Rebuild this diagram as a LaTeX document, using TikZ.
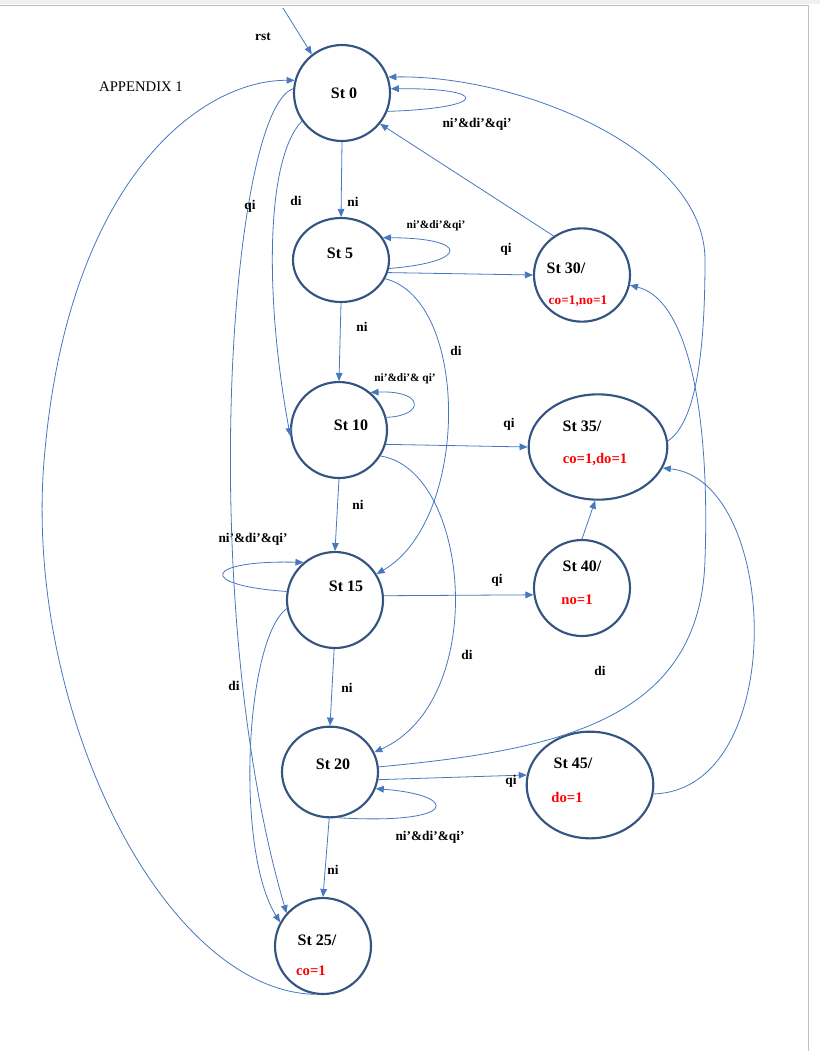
\documentclass[tikz,border=0pt]{standalone}
\usepackage{fontspec}
\setmainfont{Liberation Serif}
\usetikzlibrary{shapes.geometric,arrows.meta}
\begin{document}
\begin{tikzpicture}[x=0.75pt,y=-0.75pt,
  st/.style={draw=stc,line width=1.6pt,ellipse,inner sep=0pt},
  e/.style={draw=arr,line width=0.6pt,-{Triangle[length=6pt,width=5pt]}},
  lb/.style={font=\bfseries\fontsize{10}{12}\selectfont},
  sl/.style={font=\bfseries\fontsize{8.5}{10}\selectfont},
  nm/.style={font=\bfseries\fontsize{12}{14}\selectfont},
  rd/.style={font=\bfseries\fontsize{11}{13}\selectfont,text=red}]
\definecolor{stc}{RGB}{52,84,130}
\definecolor{arr}{RGB}{70,120,190}
\useasboundingbox (0,0) rectangle (820,1051);
\fill[gray!12] (0,0) rectangle (820,4);
\draw[gray!50] (0,5) -- (808,5) -- (808,1051);
\node[font=\fontsize{11}{13}\selectfont] (app) at (141,87) {APPENDIX 1};
% states
\node[st,minimum width=96pt*0.75/0.75*0.75,minimum height=72pt] (S0) at (342,93) {};
\node[st,minimum width=72pt,minimum height=63pt] (S5) at (341,260) {};
\node[st,minimum width=72pt,minimum height=70pt] (S30) at (582,275) {};
\node[st,minimum width=72pt,minimum height=72pt] (S10) at (339,430) {};
\node[st,minimum width=104pt,minimum height=79pt] (S35) at (598,447) {};
\node[st,minimum width=72pt,minimum height=72pt] (S15) at (335,600) {};
\node[st,minimum width=72pt,minimum height=72pt] (S40) at (582,588) {};
\node[st,minimum width=72pt,minimum height=68pt] (S20) at (330,772) {};
\node[st,minimum width=95pt,minimum height=80pt] (S45) at (590,785) {};
\node[st,minimum width=72pt,minimum height=72pt] (S25) at (323,946) {};
% texts
\node[nm] (t0) at (344,93) {St 0};
\node[nm] (t5) at (340,253) {St 5};
\node[nm] (t30) at (566,268) {St 30/};
\node[rd,font=\bfseries\fontsize{10}{12}\selectfont] (r30) at (578,301) {co=1,no=1};
\node[nm] (t10) at (351,425) {St 10};
\node[nm] (t35) at (582,426) {St 35/};
\node[rd] (r35) at (595,460) {co=1,do=1};
\node[nm] (t15) at (346,586) {St 15};
\node[nm] (t40) at (582,566) {St 40/};
\node[rd] (r40) at (577,600) {no=1};
\node[nm] (t20) at (333,764) {St 20};
\node[nm] (t45) at (573,763) {St 45/};
\node[rd] (r45) at (567,797) {do=1};
\node[nm] (t25) at (317,940) {St 25/};
\node[rd] (r25) at (311,971) {co=1};
% rst
\coordinate (rs) at (283,8);
\draw[e] (rs) -- (S0.128);
\node[lb] (lrst) at (263,37) {rst};
% straight ni
\draw[e] (S0.-90) -- (S5.90);
\draw[e] (S5.-90) -- (S10.90);
\draw[e] (S10.-90) -- (S15.90);
\draw[e] (S15.-91) -- (S20.90);
\draw[e] (S20.-91) -- (S25.90);
\node[lb] at (353,202) {ni};
\node[lb] at (362,327) {ni};
\node[lb] at (358,505) {ni};
\node[lb] at (347,688) {ni};
\node[lb] at (333,870) {ni};
% qi straight
\draw[e] (S5.-15) -- (S30.180);
\draw[e] (S10.-17) -- (S35.180);
\draw[e] (S15.5) -- (S40.-172);
\draw[e] (S20.-9) -- (S45.171);
\node[lb] at (506,249) {qi};
\node[lb] at (509,424) {qi};
\node[lb] at (497,580) {qi};
\node[lb] at (511,781) {qi};
\draw[e] (S40.90) -- (S35.-93);
\draw[e] (S30.126) -- (S0.-39);
% self loops
\draw[e] (S0.-22) .. controls (490,108) and (490,88) .. (S0.5);
\node[lb] (l0) at (477,124) {ni’\&di’\&qi’};
\draw[e] (S5.-10) .. controls (470,262) and (470,238) .. (S5.28);
\node[sl] at (436,226) {ni’\&di’\&qi’};
\draw[e] (S10.15) .. controls (425,416) and (425,390) .. (S10.50);
\node[sl] at (405,379) {ni’\&di’\& qi’};
\draw[e] (S15.170) .. controls (195,585) and (205,560) .. (S15.130);
\node[lb] at (253,539) {ni’\&di’\&qi’};
\draw[e] (S20.-80) .. controls (460,825) and (460,795) .. (S20.-20);
\node[lb] at (430,837) {ni’\&di’\&qi’};
% curves
\draw[e] (S0.175) .. controls (230,110) and (195,600) .. (S25.138);
\node[lb] at (250,206) {qi};
\draw[e] (S25.-100) .. controls (160,990) and (20,700) .. (45,450) .. controls (70,180) and (200,80) .. (S0.165);
\draw[e] (S0.-145) .. controls (265,160) and (265,300) .. (S10.-173);
\node[lb] at (296,201) {di};
\draw[e] (S5.-23) .. controls (470,300) and (470,520) .. (S15.32);
\node[lb] at (456,351) {di};
\draw[e] (S10.-32) .. controls (470,470) and (490,700) .. (S20.24);
\node[lb] at (467,655) {di};
\draw[e] (S15.-170) .. controls (245,640) and (235,850) .. (S25.151);
\node[lb] at (234,686) {di};
\draw[e] (S20.6) .. controls (560,750) and (700,720) .. (705,560) .. controls (710,420) and (690,300) .. (S30.-12);
\node[lb] at (600,671) {di};
\draw[e] (S35.5) .. controls (700,420) and (705,330) .. (705,260) .. controls (705,150) and (520,75) .. (S0.19);
\draw[e] (S45.-8) .. controls (790,790) and (780,480) .. (S35.-18);
\end{tikzpicture}
\end{document}
